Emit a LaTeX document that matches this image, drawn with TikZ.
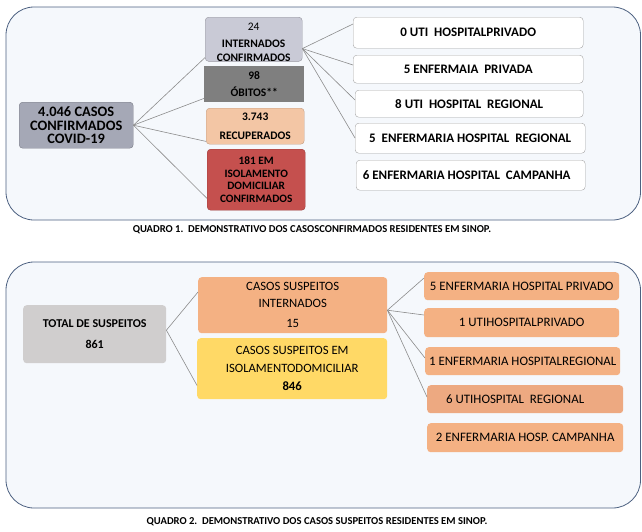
\documentclass[tikz,border=0pt]{standalone}
\usepackage{fontspec}
\setmainfont{Carlito}
\definecolor{fundo}{HTML}{F5F8FC}
\definecolor{borda}{HTML}{4D6181}
\definecolor{linha}{HTML}{8C8C8C}
\definecolor{cinzaazul}{HTML}{A5A8B6}
\definecolor{lavanda}{HTML}{C9CAD6}
\definecolor{obito}{HTML}{7F7F7F}
\definecolor{pessego}{HTML}{F3C6A5}
\definecolor{vermelho}{HTML}{C5504E}
\definecolor{cinzaclaro}{HTML}{D0CECE}
\definecolor{salmao}{HTML}{F4B183}
\definecolor{salmaoesc}{HTML}{EDA981}
\definecolor{amarelo}{HTML}{FFD966}

\begin{document}
\begin{tikzpicture}[x=1pt,y=-1pt,
  painel/.style={draw=borda,fill=fundo,line width=0.8pt,rounded corners=28pt},
  caixa/.style={anchor=north west,align=center,inner sep=0pt,rounded corners=3.5pt},
  hosp/.style={caixa,fill=white,draw=black!35,font=\bfseries\fontsize{13}{14}\selectfont},
  leito/.style={caixa,fill=salmao,minimum width=195,minimum height=28,font=\fontsize{12.9}{14}\selectfont},
  liga/.style={draw=linha,line width=0.6pt},
  legenda/.style={font=\bfseries\fontsize{10.6}{12}\selectfont}]
\useasboundingbox (0,0) rectangle (642,531);

\draw[painel] (6,7) rectangle (640.5,220);
\node[caixa,fill=cinzaazul,draw=cinzaazul!75!black,minimum width=114,minimum height=46,
  font=\bfseries\fontsize{14.4}{13.4}\selectfont] (casos) at (19,102) {4.046 CASOS\\CONFIRMADOS\\COVID-19};
\node[caixa,fill=lavanda,draw=lavanda!75!black,minimum width=97,minimum height=44,
  font=\bfseries\fontsize{11.5}{13.8}\selectfont] (internados) at (205,17) {{\mdseries\rule{0pt}{13.5pt}24}\\[3pt]INTERNADOS\\CONFIRMADOS};
\node[caixa,sharp corners,fill=obito,minimum width=100,minimum height=36,
  font=\bfseries\fontsize{11.5}{17}\selectfont] (obitos) at (204,66) {98\\ÓBITOS**};
\node[caixa,fill=pessego,draw=pessego!80!black,minimum width=98,minimum height=36,
  font=\bfseries\fontsize{11.5}{19}\selectfont] (recuperados) at (206,108) {3.743\\RECUPERADOS};
\node[caixa,fill=vermelho,draw=vermelho!80!black,minimum width=98,minimum height=61,
  font=\bfseries\fontsize{11.3}{12.7}\selectfont] (domiciliar) at (207,149) {181 EM\\ISOLAMENTO\\DOMICILIAR\\CONFIRMADOS};
\node[hosp,minimum width=230,minimum height=31] (h1) at (353,17) {0 UTI\ \ HOSPITALPRIVADO};
\node[hosp,minimum width=230,minimum height=28] (h2) at (353,55) {5 ENFERMAIA\ \ PRIVADA};
\node[hosp,minimum width=228,minimum height=27] (h3) at (355,90) {8 UTI\ \ HOSPITAL\ \ REGIONAL};
\node[hosp,minimum width=230,minimum height=30] (h4) at (355,123) {5\ \ ENFERMARIA HOSPITAL\ \ REGIONAL};
\node[hosp,minimum width=229,minimum height=30] (h5) at (356,160) {6 ENFERMARIA HOSPITAL\ \ CAMPANHA\hspace{8pt}};
\draw[liga] (casos.east) -- ([yshift=4pt]internados.south west);
\draw[liga] (casos.east) -- ([yshift=4pt]obitos.south west);
\draw[liga] (casos.east) -- ([yshift=3pt]recuperados.south west);
\draw[liga] (casos.east) -- ([yshift=12pt]domiciliar.south west);
\draw[liga] ([yshift=13pt]internados.south east) -- ([yshift=-7pt]h1.north west);
\draw[liga] ([yshift=13pt]internados.south east) -- ([yshift=-10pt]h2.north west);
\draw[liga] ([yshift=13pt]internados.south east) -- ([yshift=-10pt]h3.north west);
\draw[liga] ([yshift=13pt]internados.south east) -- ([yshift=-15pt]h4.north west);
\node[legenda] (quadro1) at (312,230) {QUADRO 1.\ \ DEMONSTRATIVO DOS CASOSCONFIRMADOS RESIDENTES EM SINOP.};

\draw[painel] (6,262) rectangle (640.5,508);
\node[caixa,fill=cinzaclaro,minimum width=143,minimum height=58,
  font=\bfseries\fontsize{12}{21}\selectfont] (total) at (23,305) {TOTAL DE SUSPEITOS\\861};
\node[caixa,fill=salmao,minimum width=189,minimum height=56,
  font=\fontsize{12.7}{17}\selectfont] (suspint) at (198,277) {CASOS SUSPEITOS\\INTERNADOS\\[3pt]15};
\node[caixa,fill=amarelo,minimum width=190,minimum height=61,
  font=\fontsize{12.7}{18}\selectfont] (suspiso) at (197,338) {CASOS SUSPEITOS EM\\ISOLAMENTODOMICILIAR\\{\bfseries 846}};
\node[leito] (b1) at (424,272) {5 ENFERMARIA HOSPITAL PRIVADO};
\node[leito,minimum height=29] (b2) at (424,308) {1 UTIHOSPITALPRIVADO};
\node[leito] (b3) at (425,347) {1 ENFERMARIA HOSPITALREGIONAL};
\node[leito,fill=salmaoesc,minimum width=196] (b4) at (427,385) {6 UTIHOSPITAL\ \ REGIONAL\hspace{20pt}};
\node[leito,minimum width=196,minimum height=29] (b5) at (427,423) {2 ENFERMARIA HOSP. CAMPANHA};
\draw[liga] ([yshift=4pt]total.east) -- ([yshift=-15pt]suspint.north west);
\draw[liga] ([yshift=4pt]total.east) -- ([yshift=14pt]suspiso.south west);
\draw[liga] ([yshift=-5pt]suspint.east) -- ([yshift=-6pt]b1.north west);
\draw[liga] ([yshift=-5pt]suspint.east) -- ([yshift=-7pt]b2.north west);
\draw[liga] ([yshift=-5pt]suspint.east) -- ([yshift=-11pt]b3.north west);
\draw[liga] ([yshift=-5pt]suspint.east) -- ([yshift=-12pt]b4.north west);
\node[legenda] (quadro2) at (317,522) {QUADRO 2.\ \ DEMONSTRATIVO DOS CASOS SUSPEITOS RESIDENTES EM SINOP.};
\end{tikzpicture}
\end{document}
